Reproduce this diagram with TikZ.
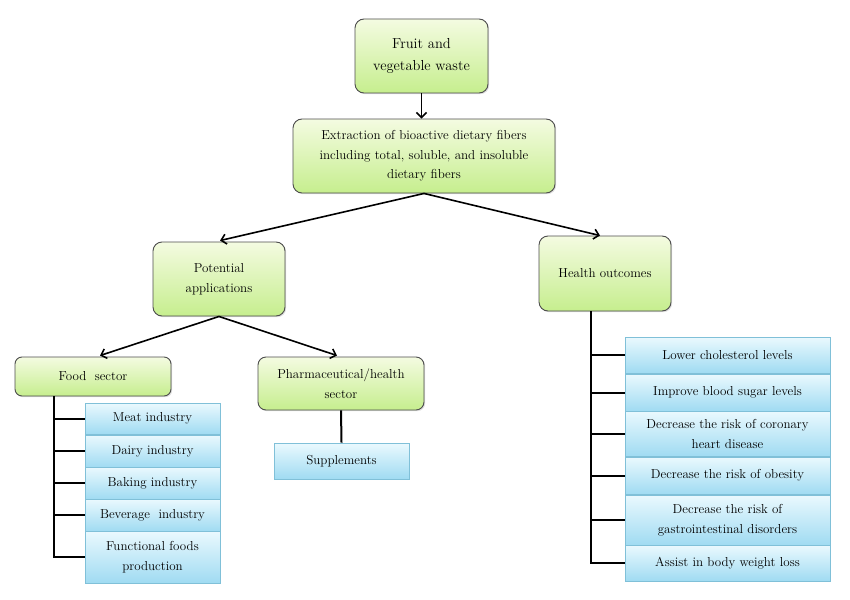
\documentclass[tikz,border=0pt]{standalone}
\usetikzlibrary{arrows.meta,shadows,calc}
\definecolor{gtop}{HTML}{F4FBE1}
\definecolor{gbot}{HTML}{C6EE8E}
\definecolor{gbord}{HTML}{4D4D4D}
\definecolor{btop}{HTML}{EAF9FE}
\definecolor{bbot}{HTML}{A0DBF2}
\definecolor{bbord}{HTML}{80C0D8}
\begin{document}
\begin{tikzpicture}[x=1pt,y=-1pt,
  gbox/.style={draw=gbord, line width=0.9pt, rounded corners=9pt, top color=gtop, bottom color=gbot,
    align=center, inner sep=0pt, font=\fontsize{13}{19.5}\selectfont,
    drop shadow={opacity=0.25, shadow xshift=1.2pt, shadow yshift=-1.2pt}},
  bbox/.style={draw=bbord, line width=0.8pt, top color=btop, bottom color=bbot,
    align=center, inner sep=0pt, font=\fontsize{13}{20}\selectfont,
    drop shadow={opacity=0.2, shadow xshift=1pt, shadow yshift=-1pt}},
  arr/.style={line width=1.6pt, -{Straight Barb[length=5pt,width=10pt,line width=1.6pt]}},
  tree/.style={line width=2pt}]
\useasboundingbox (0,0) rectangle (850,599);
\fill[white] (0,0) rectangle (850,599);

% green boxes
\node[gbox, minimum width=133pt, minimum height=74pt, font=\fontsize{14.5}{22}\selectfont] (fruit) at (421.5,56) {Fruit and\\vegetable waste};
\node[gbox, minimum width=262pt, minimum height=74pt] (ext) at (424,156) {Extraction of bioactive dietary fibers\\including total, soluble, and insoluble\\dietary fibers};
\node[gbox, minimum width=132pt, minimum height=74pt] (pot) at (219,279) {Potential\\applications};
\node[gbox, minimum width=132pt, minimum height=75pt] (health) at (605,273.5) {Health outcomes};
\node[gbox, minimum width=156pt, minimum height=39pt, rounded corners=7pt] (food) at (93,376.5) {Food\ \ sector};
\node[gbox, minimum width=166pt, minimum height=53pt, rounded corners=8pt] (pharm) at (341,383.5) {Pharmaceutical/health\\sector};

% blue boxes food
\node[bbox, minimum width=135pt, minimum height=31pt] (meat) at (152.5,418.5) {Meat industry};
\node[bbox, minimum width=135pt, minimum height=32pt] (dairy) at (152.5,451) {Dairy industry};
\node[bbox, minimum width=135pt, minimum height=32pt] (baking) at (152.5,483) {Baking industry};
\node[bbox, minimum width=135pt, minimum height=32pt] (bev) at (152.5,515) {Beverage\ \ industry};
\node[bbox, minimum width=135pt, minimum height=52pt] (func) at (152.5,557) {Functional foods\\production};

% supplements
\node[bbox, minimum width=135pt, minimum height=36pt] (supp) at (341.5,461) {Supplements};

% blue boxes health
\node[bbox, minimum width=205pt, minimum height=36pt] (h1) at (727.5,355) {Lower\ cholesterol\ levels};
\node[bbox, minimum width=205pt, minimum height=37pt] (h2) at (727.5,392.5) {Improve blood\ sugar levels};
\node[bbox, minimum width=205pt, minimum height=45pt] (h3) at (727.5,433.5) {Decrease the risk of coronary\\heart disease};
\node[bbox, minimum width=205pt, minimum height=37pt] (h4) at (727.5,475.5) {Decrease the risk of obesity};
\node[bbox, minimum width=205pt, minimum height=50pt] (h5) at (727.5,520) {Decrease the risk of\\gastrointestinal disorders};
\node[bbox, minimum width=205pt, minimum height=36pt] (h6) at (727.5,563) {Assist in body\ weight loss};

% arrows
\draw[arr] (fruit.south) -- (fruit.south |- ext.north);
\draw[arr] (ext.south) -- ($(pot.north)+(1,-1)$);
\draw[arr] (ext.south) -- ($(health.north)+(-5,0)$);
\draw[arr] (pot.south) -- ($(food.north)+(7,-1)$);
\draw[arr] (pot.south) -- ($(pharm.north)+(-4,-1)$);

% trees
\coordinate (fl) at (54,396);
\draw[tree] (fl) |- (func.west);
\foreach \n in {meat,dairy,baking,bev} \draw[tree] (fl) |- (\n.west);
\draw[tree] (pharm.south) -- (supp.north);
\coordinate (hl) at (591,311);
\draw[tree] (hl) |- (h6.west);
\foreach \n in {h1,h2,h3,h4,h5} \draw[tree] (hl) |- (\n.west);
\end{tikzpicture}
\end{document}
